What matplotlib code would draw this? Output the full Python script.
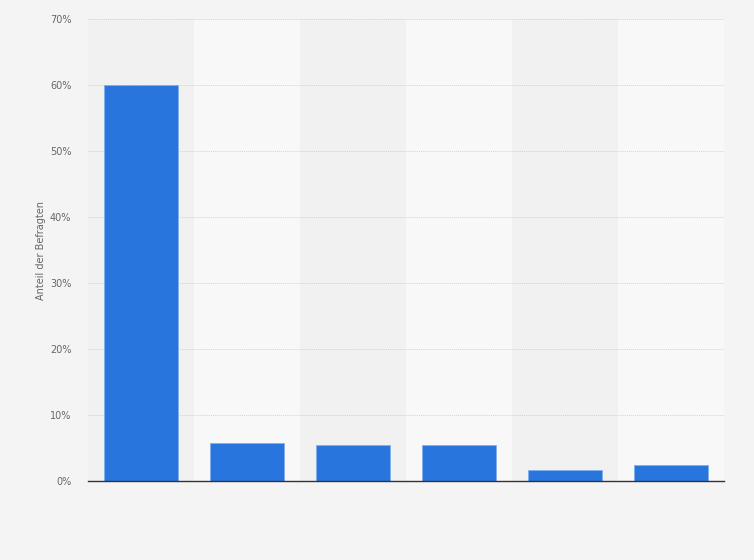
import numpy as np
import matplotlib.pyplot as plt
from matplotlib.ticker import FuncFormatter

# six answer categories, labels are not shown in the chart
categories = ["", "", "", "", "", ""]
shares = [60.0, 5.7, 5.4, 5.4, 1.6, 2.4]
yticks = [0, 10, 20, 30, 40, 50, 60, 70]

fig = plt.figure(figsize=(7.54, 5.60), dpi=100, facecolor="#f4f4f4")
ax = fig.add_axes([88/754, 1 - 481/560, (724 - 88)/754, (481 - 19)/560])
ax.set_facecolor("#f4f4f4")

x = np.arange(len(categories))

# alternating column bands
for i in x:
    ax.axvspan(i - 0.5, i + 0.5, color="#f1f1f1" if i % 2 == 0 else "#f8f8f8", zorder=0, lw=0)

ax.bar(x, shares, width=0.69, color="#2876dd", edgecolor="#7fb0ee", linewidth=0.6, zorder=3)

ax.set_xlim(-0.5, len(categories) - 0.5)
ax.set_ylim(0, 70)
ax.set_yticks(yticks)
ax.yaxis.set_major_formatter(FuncFormatter(lambda v, p: f"{v:.0f}%"))
ax.set_xticks(x)
ax.set_xticklabels(categories)

ax.grid(axis="y", color="#d2d2d2", linestyle=(0, (1, 1)), linewidth=0.7, zorder=1)
ax.tick_params(axis="y", length=0, labelsize=7, labelcolor="#666666", pad=12)
ax.tick_params(axis="x", length=0)

for s in ["top", "right", "left"]:
    ax.spines[s].set_visible(False)
ax.spines["bottom"].set_color("#333333")
ax.spines["bottom"].set_linewidth(1.0)
ax.spines["bottom"].set_zorder(4)

ax.set_ylabel("Anteil der Befragten", fontsize=7, color="#666666", labelpad=3)

fig.savefig("out.png", dpi=100, facecolor=fig.get_facecolor())
